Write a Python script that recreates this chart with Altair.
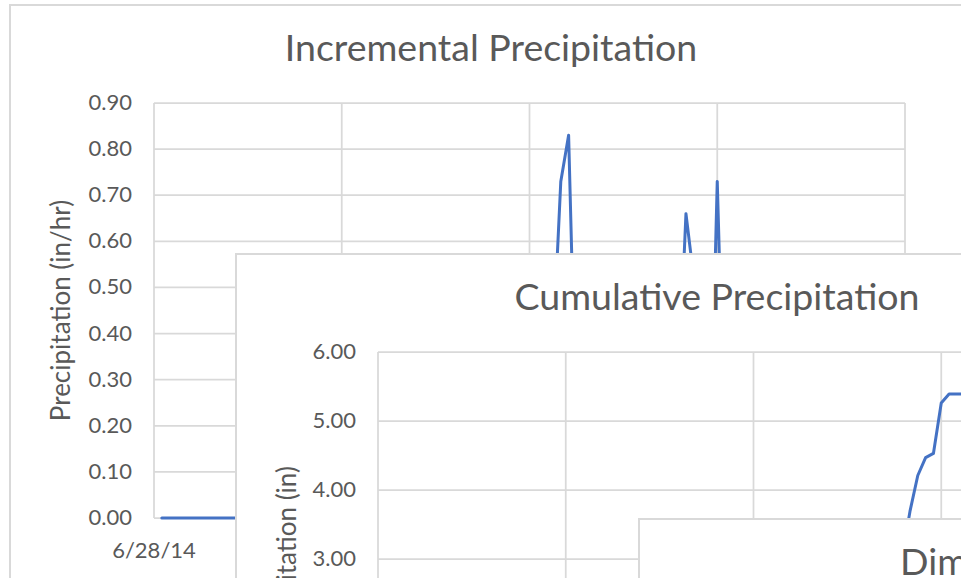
import altair as alt
import pandas as pd

# Hourly series, 6/28/14 00:00 = hour 0
hours = list(range(1, 97))

incremental_in_hr = (
    [0.0] * 48
    + [0.05, 0.20, 0.37, 0.73, 0.83, 0.18, 0.15, 0.05, 0.0, 0.0, 0.0, 0.04]
    + [0.0, 0.0, 0.0, 0.03, 0.05, 0.08, 0.27, 0.66, 0.52, 0.26, 0.06, 0.73]
    + [0.13] + [0.0] * 23
)

cumulative_in = (
    [0.0] * 48
    + [0.05, 0.25, 0.62, 1.35, 2.18, 2.36, 2.51, 2.56, 2.56, 2.56, 2.56, 2.60]
    + [2.60, 2.60, 2.60, 2.63, 2.68, 2.76, 3.03, 3.69, 4.21, 4.47, 4.53, 5.26]
    + [5.39] * 24
)

day_ticks = [0, 24, 48, 72, 96]
day_labels = ["6/28/14", "6/29/14", "6/30/14", "7/1/14", "7/2/14"]

inc_ticks = [0.0, 0.1, 0.2, 0.3, 0.4, 0.5, 0.6, 0.7, 0.8, 0.9]
cum_ticks = [0.0, 1.0, 2.0, 3.0, 4.0, 5.0, 6.0]

W, H = 961, 578
FONT = "Lato"
TEXT = "#595959"
GRID = "#d9d9d9"
LINE = "#4472c4"
TITLE_SIZE = 37.5
LABEL_SIZE = 22
AXIS_TITLE_SIZE = 26

one = pd.DataFrame({"k": [0]})


def frame(left, top):
    return alt.Chart(one).mark_rect(
        fill="white", stroke=GRID, strokeWidth=2
    ).encode(
        x=alt.value(left), x2=alt.value(left + 2000),
        y=alt.value(top), y2=alt.value(top + 2000),
    )


def panel(frame_left, frame_top, plot, y_max, ticks, fmt, title, y_title,
          x_vals, y_vals):
    x0, x1, ytop, ybot = plot
    xs = alt.Scale(domain=[0, 96], range=[x0, x1], nice=False, zero=False)
    ys = alt.Scale(domain=[0, y_max], range=[ybot, ytop], nice=False, zero=False)

    hgrid = alt.Chart(pd.DataFrame({"v": ticks})).mark_rule(
        color=GRID, strokeWidth=1.75
    ).encode(
        y=alt.Y("v:Q", scale=ys, axis=None),
        x=alt.value(x0), x2=alt.value(x1),
    )
    vgrid = alt.Chart(pd.DataFrame({"t": day_ticks})).mark_rule(
        color=GRID, strokeWidth=1.75
    ).encode(
        x=alt.X("t:Q", scale=xs, axis=None),
        y=alt.value(ytop), y2=alt.value(ybot),
    )
    ylab = alt.Chart(pd.DataFrame({"v": ticks})).mark_text(
        align="right", baseline="middle", font=FONT, fontSize=LABEL_SIZE,
        color=TEXT
    ).encode(
        y=alt.Y("v:Q", scale=ys, axis=None),
        x=alt.value(x0 - 22),
        text=alt.Text("v:Q", format=fmt),
    )
    xlab = alt.Chart(
        pd.DataFrame({"t": day_ticks, "lab": day_labels})
    ).mark_text(
        align="center", baseline="middle", font=FONT, fontSize=LABEL_SIZE,
        color=TEXT
    ).encode(
        x=alt.X("t:Q", scale=xs, axis=None),
        y=alt.value(ybot + 33),
        text="lab:N",
    )
    ttl = alt.Chart(pd.DataFrame({"s": [title]})).mark_text(
        align="center", baseline="alphabetic", font=FONT, fontSize=TITLE_SIZE,
        color=TEXT
    ).encode(
        x=alt.value(frame_left + 481),
        y=alt.value(frame_top + 56),
        text="s:N",
    )
    ytl = alt.Chart(pd.DataFrame({"s": [y_title]})).mark_text(
        align="center", baseline="middle", angle=270, font=FONT,
        fontSize=AXIS_TITLE_SIZE, color=TEXT
    ).encode(
        x=alt.value(frame_left + 52),
        y=alt.value((ytop + ybot) / 2),
        text="s:N",
    )
    series = alt.Chart(pd.DataFrame({"h": x_vals, "v": y_vals})).mark_line(
        color=LINE, strokeWidth=3, strokeJoin="round", strokeCap="round"
    ).encode(
        x=alt.X("h:Q", scale=xs, axis=None),
        y=alt.Y("v:Q", scale=ys, axis=None),
    )
    return [frame(frame_left, frame_top), hgrid, vgrid, ylab, xlab, ttl, ytl,
            series]


incremental = panel(
    10, 5, (154, 905, 103, 518), 0.9, inc_ticks, ".2f",
    "Incremental Precipitation", "Precipitation (in/hr)",
    hours, incremental_in_hr,
)
cumulative = panel(
    236, 254, (378, 1129, 352, 766), 6.0, cum_ticks, ".2f",
    "Cumulative Precipitation", "Precipitation (in)",
    hours, cumulative_in,
)

third = [
    frame(639, 519),
    alt.Chart(pd.DataFrame({"s": ["Dimensionless Hyetograph"]})).mark_text(
        align="left", baseline="alphabetic", font=FONT, fontSize=TITLE_SIZE,
        color=TEXT
    ).encode(x=alt.value(900), y=alt.value(575), text="s:N"),
]

chart = alt.layer(*(incremental + cumulative + third)).resolve_scale(
    x="independent", y="independent"
).properties(
    width=W, height=H, padding=0, autosize=alt.AutoSizeParams(type="none"),
    background="white",
).configure_view(stroke=None)

chart.save("out.html", embed_options={"renderer": "svg", "actions": False})
